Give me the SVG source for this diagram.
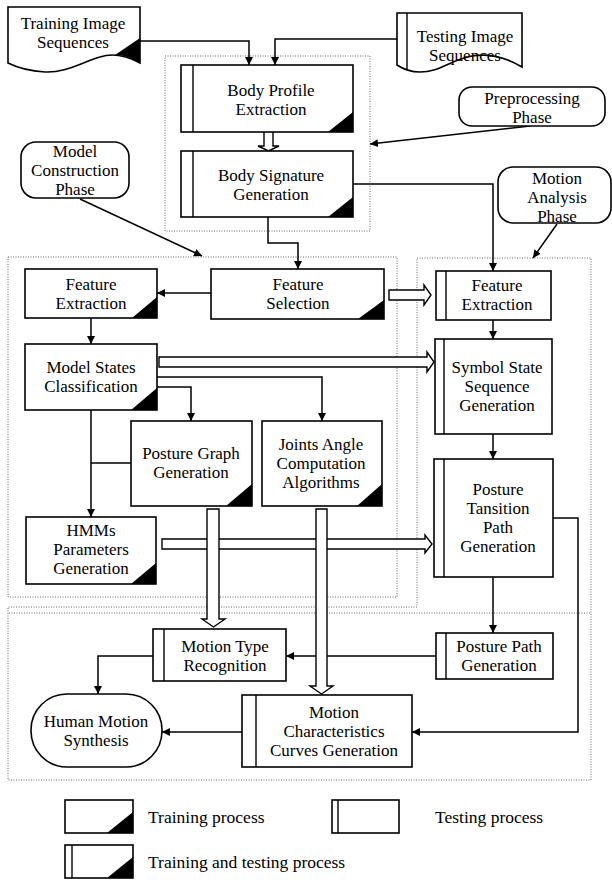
<svg xmlns="http://www.w3.org/2000/svg" width="612" height="880" viewBox="0 0 612 880">
<style>
.bg{fill:#fff}
.box{fill:#fff;stroke:#000;stroke-width:1.6}
.tri{fill:#000}
.bar{fill:none;stroke:#000;stroke-width:1.4}
.t{font-family:"Liberation Serif","Times New Roman",serif;font-size:17px;text-anchor:middle;fill:#000}
.lt{font-family:"Liberation Serif","Times New Roman",serif;font-size:17.5px;fill:#000}
.dot{fill:none;stroke:#666;stroke-width:1;stroke-dasharray:1 1.5}
.ln{fill:none;stroke:#000;stroke-width:1.5}
.hol{fill:#fff;stroke:#000;stroke-width:1.4;stroke-linejoin:miter}
</style>
<defs>
<marker id="ah" viewBox="0 0 10 10" refX="10" refY="5" markerWidth="8" markerHeight="8" markerUnits="userSpaceOnUse" orient="auto"><path d="M0,0 L10,5 L0,10 Z" fill="#000"/></marker>
</defs>
<rect class="bg" x="0" y="0" width="612" height="880"/>

<g id="regions">
<rect class="dot" x="165" y="56" width="205" height="175"/>
<rect class="dot" x="8" y="257" width="389" height="340"/>
<path class="dot" d="M417,258 H591 V780 H8 V607 H417 Z"/>
<path class="dot" d="M9,613 H590"/>
</g>

<g id="connectors">
<path class="ln" d="M140,41 H249 V65" marker-end="url(#ah)"/>
<path class="ln" d="M397,39 H275 V65" marker-end="url(#ah)"/>
<path class="ln" d="M530,126 L370,144" marker-end="url(#ah)"/>
<path class="ln" d="M353,184 H493 V271" marker-end="url(#ah)"/>
<path class="ln" d="M268,217 V243 H298 V269" marker-end="url(#ah)"/>
<path class="ln" d="M80,199 L202,256" marker-end="url(#ah)"/>
<path class="ln" d="M557,224 L533,258" marker-end="url(#ah)"/>
<path class="ln" d="M211,293 H157" marker-end="url(#ah)"/>
<path class="ln" d="M91,318 V344" marker-end="url(#ah)"/>
<path class="ln" d="M157,387 H191 V421" marker-end="url(#ah)"/>
<path class="ln" d="M157,377 H322 V421" marker-end="url(#ah)"/>
<path class="ln" d="M91,410 V517" marker-end="url(#ah)"/>
<path class="ln" d="M131,463 H91"/>
<path class="ln" d="M493,320 V339" marker-end="url(#ah)"/>
<path class="ln" d="M493,434 V459" marker-end="url(#ah)"/>
<path class="ln" d="M493,577 V633" marker-end="url(#ah)"/>
<path class="ln" d="M553,518 H578 V732 H412" marker-end="url(#ah)"/>
<path class="ln" d="M436,656 H286" marker-end="url(#ah)"/>
<path class="ln" d="M153,656 H98 V694" marker-end="url(#ah)"/>
<path class="ln" d="M242,732 H162" marker-end="url(#ah)"/>
<path class="hol" d="M264,132 V146 H258 L268.5,151 L279,146 H273 V132"/>
<path class="hol" d="M389,290 H424 V285 L431,295 L424,305 V300 H389 Z"/>
<path class="hol" d="M159,357 H427 V352 L434,362 L427,372 V367 H159 Z"/>
<path class="hol" d="M162,539 H425 V535 L432,544 L425,553 V549 H162 Z"/>
<path class="hol" d="M207,509 V619 H202 L213.5,627 L225,619 H219 V509 Z"/>
<path class="hol" d="M316,509 V686 H310 L321.5,694 L333,686 H327 V509 Z"/>
</g>

<g id="training-image-sequences">
<path class="box" d="M8,7 H140 V63 C125,55 112,53 100,57 C80,63 65,73 45,72 C30,71 18,68 8,63 Z"/>
<path class="tri" d="M140,38 V63 C132,58 124,55 115,55 Z"/>
<text class="t" x="73" y="29">Training Image</text>
<text class="t" x="73" y="48">Sequences</text>
</g>

<g id="testing-image-sequences">
<path class="box" d="M397,13 H522 V67 C505,57 490,53 472,56 C450,60 440,72 420,72 C410,72 403,69 397,65 Z"/>
<path class="bar" d="M407,13 V70"/>
<text class="t" x="465" y="42">Testing Image</text>
<text class="t" x="465" y="61">Sequences</text>
</g>

<g id="preprocessing-phase">
<rect class="box" x="459" y="87" width="146" height="39" rx="13"/>
<text class="t" x="532" y="104">Preprocessing</text>
<text class="t" x="532" y="123">Phase</text>
</g>

<g id="body-profile-extraction">
<rect class="box" x="181" y="65" width="172" height="67"/>
<path class="bar" d="M193,65 V132"/>
<path class="tri" d="M353,112 V132 H328 Z"/>
<text class="t" x="271" y="95.5">Body Profile</text>
<text class="t" x="271" y="114.5">Extraction</text>
</g>

<g id="body-signature-generation">
<rect class="box" x="181" y="151" width="172" height="66"/>
<path class="bar" d="M193,151 V217"/>
<path class="tri" d="M353,197 V217 H328 Z"/>
<text class="t" x="271" y="180.5">Body Signature</text>
<text class="t" x="271" y="199.5">Generation</text>
</g>

<g id="model-construction-phase">
<rect class="box" x="21" y="142" width="108" height="56" rx="15"/>
<text class="t" x="75" y="157">Model</text>
<text class="t" x="75" y="176">Construction</text>
<text class="t" x="75" y="195">Phase</text>
</g>

<g id="motion-analysis-phase">
<rect class="box" x="498" y="167" width="113" height="56" rx="15"/>
<text class="t" x="557" y="184">Motion</text>
<text class="t" x="557" y="203">Analysis</text>
<text class="t" x="557" y="222">Phase</text>
</g>

<g id="feature-selection">
<rect class="box" x="211" y="269" width="173" height="50"/>
<path class="tri" d="M384,300 V319 H358 Z"/>
<text class="t" x="298" y="290">Feature</text>
<text class="t" x="298" y="309">Selection</text>
</g>

<g id="feature-extraction-model">
<rect class="box" x="25" y="269" width="132" height="49"/>
<path class="tri" d="M157,297 V318 H132 Z"/>
<text class="t" x="91" y="290">Feature</text>
<text class="t" x="91" y="309">Extraction</text>
</g>

<g id="model-states-classification">
<rect class="box" x="25" y="344" width="132" height="66"/>
<path class="tri" d="M157,388 V410 H131 Z"/>
<text class="t" x="91" y="373">Model States</text>
<text class="t" x="91" y="392">Classification</text>
</g>

<g id="posture-graph-generation">
<rect class="box" x="131" y="421" width="121" height="85"/>
<path class="tri" d="M252,484 V506 H226 Z"/>
<text class="t" x="191" y="459">Posture Graph</text>
<text class="t" x="191" y="478">Generation</text>
</g>

<g id="joints-angle-computation">
<rect class="box" x="262" y="421" width="120" height="85"/>
<path class="tri" d="M382,484 V506 H357 Z"/>
<text class="t" x="321" y="450">Joints Angle</text>
<text class="t" x="321" y="469">Computation</text>
<text class="t" x="321" y="488">Algorithms</text>
</g>

<g id="hmms-parameters-generation">
<rect class="box" x="26" y="517" width="130" height="67"/>
<path class="tri" d="M156,563 V584 H131 Z"/>
<text class="t" x="91" y="536">HMMs</text>
<text class="t" x="91" y="555">Parameters</text>
<text class="t" x="91" y="574">Generation</text>
</g>

<g id="feature-extraction-analysis">
<rect class="box" x="436" y="271" width="115" height="49"/>
<path class="bar" d="M446,271 V320"/>
<text class="t" x="497" y="291">Feature</text>
<text class="t" x="497" y="310">Extraction</text>
</g>

<g id="symbol-state-sequence-generation">
<rect class="box" x="435" y="339" width="117" height="95"/>
<path class="bar" d="M444,339 V434"/>
<text class="t" x="497" y="373">Symbol State</text>
<text class="t" x="497" y="392">Sequence</text>
<text class="t" x="497" y="411">Generation</text>
</g>

<g id="posture-transition-path-generation">
<rect class="box" x="434" y="459" width="119" height="118"/>
<path class="bar" d="M444,459 V577"/>
<text class="t" x="498" y="495">Posture</text>
<text class="t" x="498" y="514">Tansition</text>
<text class="t" x="498" y="533">Path</text>
<text class="t" x="498" y="552">Generation</text>
</g>

<g id="posture-path-generation">
<rect class="box" x="436" y="633" width="117" height="46"/>
<path class="bar" d="M446,633 V679"/>
<text class="t" x="499" y="652">Posture Path</text>
<text class="t" x="499" y="671">Generation</text>
</g>

<g id="motion-type-recognition">
<rect class="box" x="153" y="629" width="133" height="52"/>
<path class="bar" d="M164,629 V681"/>
<text class="t" x="225" y="652">Motion Type</text>
<text class="t" x="225" y="671">Recognition</text>
</g>

<g id="motion-characteristics-curves-generation">
<rect class="box" x="242" y="695" width="170" height="72"/>
<path class="bar" d="M256,695 V767"/>
<text class="t" x="334" y="718">Motion</text>
<text class="t" x="334" y="737">Characteristics</text>
<text class="t" x="334" y="756">Curves Generation</text>
</g>

<g id="human-motion-synthesis">
<rect class="box" x="31" y="694" width="131" height="73" rx="36" ry="36"/>
<text class="t" x="96" y="727">Human Motion</text>
<text class="t" x="96" y="746">Synthesis</text>
</g>

<g id="legend">
<rect class="box" x="65" y="800" width="68" height="33"/>
<path class="tri" d="M133,812 V833 H107 Z"/>
<text class="lt" x="148" y="823">Training process</text>
<rect class="box" x="332" y="800" width="67" height="33"/>
<path class="bar" d="M338,800 V833"/>
<text class="lt" x="435" y="823">Testing process</text>
<rect class="box" x="65" y="845" width="68" height="33"/>
<path class="bar" d="M72,845 V878"/>
<path class="tri" d="M133,857 V878 H107 Z"/>
<text class="lt" x="148" y="868">Training and testing process</text>
</g>
</svg>
